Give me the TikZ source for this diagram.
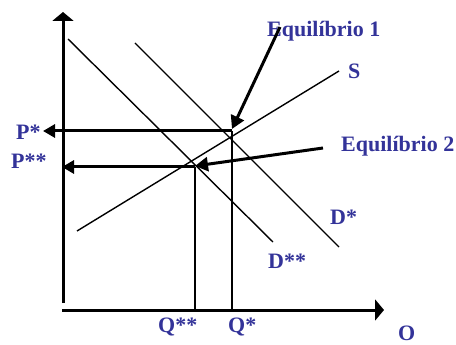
\documentclass[tikz,border=0pt]{standalone}
\usepackage{fontspec}
\setmainfont{Liberation Serif}
\usetikzlibrary{arrows.meta}
\definecolor{lblue}{RGB}{51,51,153}
\begin{document}
\begin{tikzpicture}[x=1pt,y=-1pt,
  lbl/.style={anchor=base west,inner sep=0pt,text=lblue,font=\fontsize{22}{24}\selectfont\bfseries},
  axis/.style={line width=3pt,-{Triangle[length=9pt,width=21pt]}},
  curve/.style={line width=1.4pt},
  guide/.style={line width=1.2pt},
  parrow/.style={line width=3pt,-{Triangle[length=12pt,width=13pt]}},
  earrow/.style={line width=3pt,-{Triangle[length=13pt,width=14pt]}}]
\useasboundingbox (0,0) rectangle (456,345);
% axes
\coordinate (yb) at (63,303);
\coordinate (yt) at (63,12);
\coordinate (xl) at (62,310);
\coordinate (xr) at (384,310);
\draw[axis] (yb) -- (yt);
\draw[axis] (xl) -- (xr);
% curves
\coordinate (dssA) at (68,39);  \coordinate (dssB) at (273,242);
\coordinate (dsA) at (135,43);  \coordinate (dsB) at (339,247);
\coordinate (sA) at (77,231);   \coordinate (sB) at (339,71);
\draw[curve] (dssA) -- (dssB);
\draw[curve] (dsA) -- (dsB);
\draw[curve] (sA) -- (sB);
% equilibrium points
\coordinate (e1) at (232,131);
\coordinate (e2) at (195,167);
\coordinate (q1) at (232,310);
\coordinate (q2) at (195,310);
\coordinate (p1) at (43,131);
\coordinate (p2) at (62,167);
\draw[guide] (e1) -- (q1);
\draw[guide] (e2) -- (q2);
\draw[parrow] (e1) -- (p1);
\draw[parrow] (e2) -- (p2);
% labels
\node[lbl] (eq1) at (267,37) {Equilíbrio 1};
\node[lbl] (eq2) at (341,152) {Equilíbrio 2};
\node[lbl] (S) at (348,79) {S};
\node[lbl] (Pst) at (16,140) {P*};
\node[lbl] (Pss) at (11,168) {P**};
\node[lbl] (Dst) at (330,225) {D*};
\node[lbl] (Dss) at (268,268) {D**};
\node[lbl] (Qss) at (158,332) {Q**};
\node[lbl] (Qst) at (228,332) {Q*};
\node[lbl] (O) at (398,340) {O};
% equilibrium pointers
\coordinate (a1) at (280,27);
\coordinate (t1) at (232,129);
\coordinate (a2) at (323,148);
\coordinate (t2) at (195,166);
\draw[earrow] (a1) -- (t1);
\draw[earrow] (a2) -- (t2);
\end{tikzpicture}
\end{document}
